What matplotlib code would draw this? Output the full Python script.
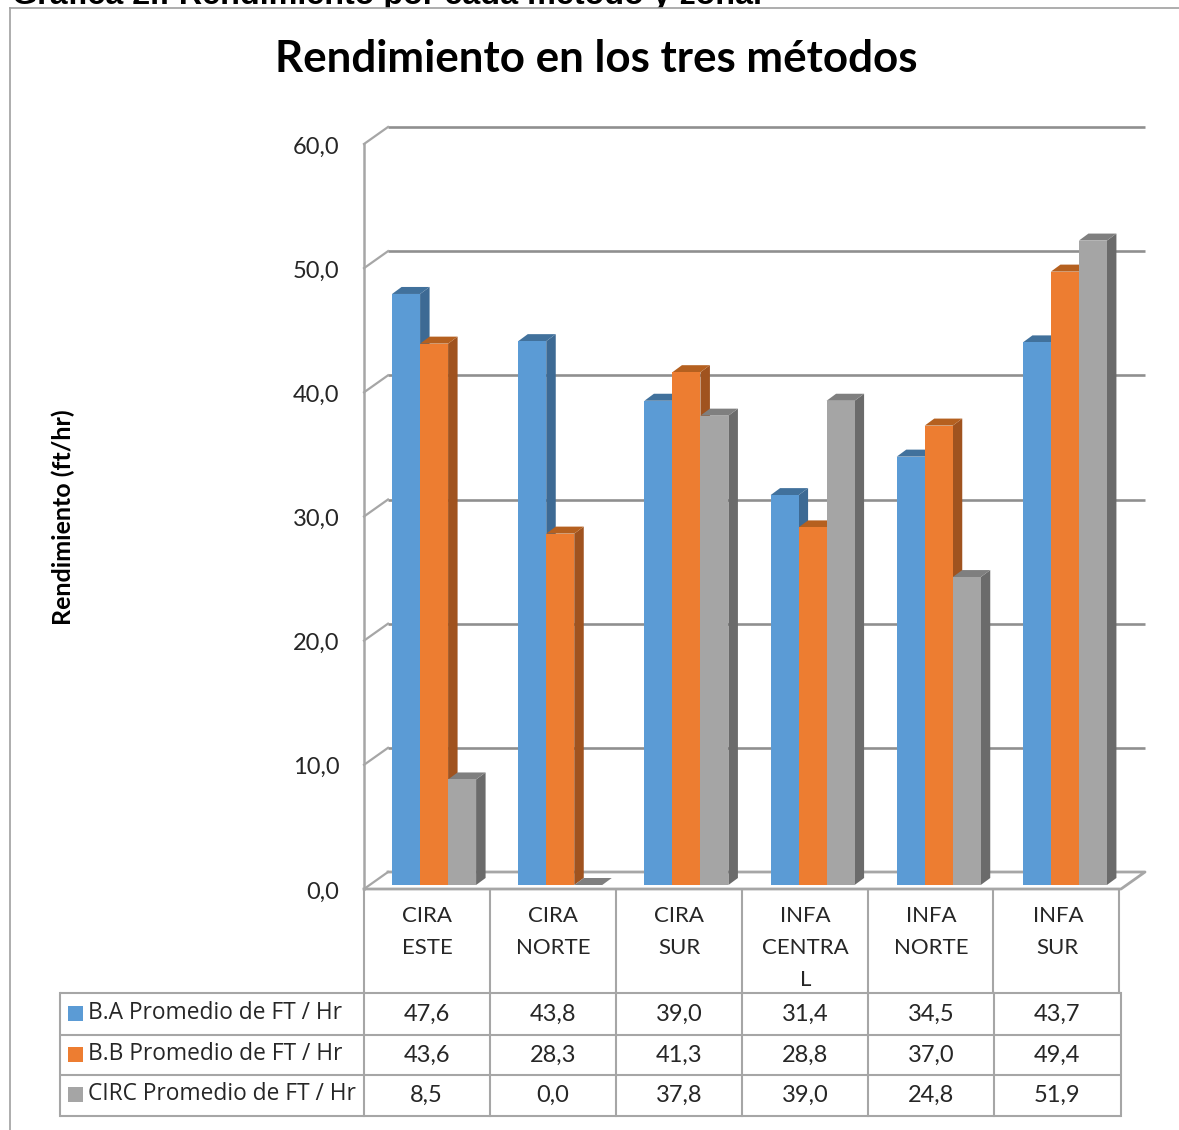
import matplotlib
matplotlib.use("Agg")
import matplotlib.pyplot as plt
from matplotlib.patches import Rectangle

categories = ["CIRA\nESTE", "CIRA\nNORTE", "CIRA\nSUR", "INFA\nCENTRA\nL", "INFA\nNORTE", "INFA\nSUR"]
series_names = ["B.A Promedio de FT / Hr", "B.B Promedio de FT / Hr", "CIRC Promedio de FT / Hr"]
ba_values = [47.6, 43.8, 39.0, 31.4, 34.5, 43.7]
bb_values = [43.6, 28.3, 41.3, 28.8, 37.0, 49.4]
circ_values = [8.5, 0.0, 37.8, 39.0, 24.8, 51.9]
y_ticks = [0, 10, 20, 30, 40, 50, 60]

front_colors = ["#5B9BD5", "#ED7D31", "#A5A5A5"]
side_colors = ["#3D6A94", "#A0531F", "#6B6B6B"]
top_colors = ["#41719C", "#B5601F", "#7F7F7F"]
LINE = "#A6A6A6"
GRID = "#8F8F8F"
TXT = "#262626"
FONT = "Lato"

W, H = 1179, 1130
fig = plt.figure(figsize=(W / 100, H / 100), dpi=100, facecolor="white")

# overlay in pixel coordinates for frame and table rules
ov = fig.add_axes([0, 0, 1, 1], zorder=0)
ov.set_xlim(0, W)
ov.set_ylim(H, 0)
ov.axis("off")

# main axes: front plane of the 3D chart
L, R, Y0, Y60 = 364, 1121, 889, 144
ax = fig.add_axes([L / W, 1 - Y0 / H, (R - L) / W, (Y0 - Y60) / H], zorder=2)
ax.patch.set_alpha(0)
ax.set_xlim(-0.5, 5.5)
ax.set_ylim(0, 60)
ax.axis("off")

px_x = (R - L) / 6
px_y = (Y0 - Y60) / 60
# depth of the walls, and depth and floor offset of the bars, in data units
wall_dx, wall_dy = 24 / px_x, 17 / px_y
bar_dx, bar_dy = 9.5 / px_x, 7 / px_y
base = 4 / px_y
shift = 7.0 / px_x
bw = 28 / px_x

# walls
for t in y_ticks:
    if t > 0:
        ax.plot([-0.5 + wall_dx, 5.5 + wall_dx], [t + wall_dy] * 2, color=GRID, lw=1.9,
                clip_on=False, zorder=1, solid_capstyle="butt")
    ax.plot([-0.5, -0.5 + wall_dx], [t, t + wall_dy], color=LINE, lw=1.6, clip_on=False, zorder=1)
ax.plot([-0.5, -0.5], [0, 60], color=LINE, lw=1.8, clip_on=False, zorder=1)
ax.plot([-0.5 + wall_dx, 5.5 + wall_dx, 5.5, -0.5], [wall_dy, wall_dy, 0, 0],
        color=LINE, lw=2.0, clip_on=False, zorder=1)

# bars
all_series = [ba_values, bb_values, circ_values]
z = 3
for i in range(len(categories)):
    for j, vals in enumerate(all_series):
        x0 = i + shift + (j - 1.5) * bw
        x1 = x0 + bw
        v = vals[i] + base
        ax.fill([x1, x1 + bar_dx, x1 + bar_dx, x1], [base, base + bar_dy, v + bar_dy, v],
                color=side_colors[j], lw=0, zorder=z, clip_on=False)
        ax.fill([x0, x1, x1 + bar_dx, x0 + bar_dx], [v, v, v + bar_dy, v + bar_dy],
                color=top_colors[j], lw=0, zorder=z, clip_on=False)
        if vals[i] > 0:
            ax.bar(x0, vals[i], bw, bottom=base, align="edge", color=front_colors[j], lw=0, zorder=z)
        z += 1

# y tick labels
for t in y_ticks:
    ov.text(339.5, Y0 - t * px_y + 0.5 + 2.5, f"{t:.1f}".replace(".", ","), ha="right", va="center",
            fontsize=17, family=FONT, color=TXT)

# table rules
header_edges = [364, 490, 616, 742, 868, 992.5, 1119]
data_edges = [60, 364, 490, 616, 742, 868, 994, 1121]
row_edges = [993, 1034.5, 1075, 1115.5]
for xe in header_edges:
    ov.plot([xe, xe], [890, 993], color=LINE, lw=1.5, solid_capstyle="butt")
for ye in row_edges:
    ov.plot([60, 1121], [ye, ye], color=LINE, lw=1.5, solid_capstyle="butt")
for xe in data_edges:
    ov.plot([xe, xe], [993, 1115.5], color=LINE, lw=1.5, solid_capstyle="projecting")

# category labels
for k, c in enumerate(categories):
    cx = L + (k + 0.5) * px_x
    for n, part in enumerate(c.split("\n")):
        ov.text(cx, 916 + n * 31.8, part, ha="center", va="center", fontsize=16, family=FONT, color=TXT)

# data rows
row_centers = [1013, 1054, 1094.5]
for r, (name, vals) in enumerate(zip(series_names, all_series)):
    ov.add_patch(Rectangle((68, row_centers[r] - 7.5), 15, 15, color=front_colors[r], lw=0))
    ov.text(88, row_centers[r], name, ha="left", va="center", fontsize=16.35, family="Open Sans", color=TXT)
    for k, v in enumerate(vals):
        ov.text(L + (k + 0.5) * px_x - 0.5, row_centers[r] + 1, f"{v:.1f}".replace(".", ","),
                ha="center", va="center", fontsize=17, family=FONT, color=TXT)

# outer text and frame
ov.text(12, 4, "Gráfica 2.: Rendimiento por cada método y zona.", ha="left", va="baseline",
        fontsize=23.2, fontweight="bold", family="Liberation Sans", color="black", zorder=1)
ov.add_patch(Rectangle((0, 8), W, H, facecolor="white", edgecolor="none", zorder=1.5))
ov.plot([10, 1179], [8, 8], color="#A0A0A0", lw=1.2, zorder=2)
ov.plot([10, 10], [8, 1130], color="#A0A0A0", lw=1.2, zorder=2)
for art in ov.lines[:-2]:
    art.set_zorder(2)
for art in ov.patches[:-1]:
    art.set_zorder(2)
for art in ov.texts[:-1]:
    art.set_zorder(2)

ov.text(596, 59, "Rendimiento en los tres métodos", ha="center", va="center",
        fontsize=31.6, fontweight="bold", family=FONT, color="black", zorder=2)
ov.text(63, 517, "Rendimiento (ft/hr)", ha="center", va="center", rotation=90,
        fontsize=18, fontweight="bold", family=FONT, color="black", zorder=2)

fig.savefig("out.png", dpi=100)
